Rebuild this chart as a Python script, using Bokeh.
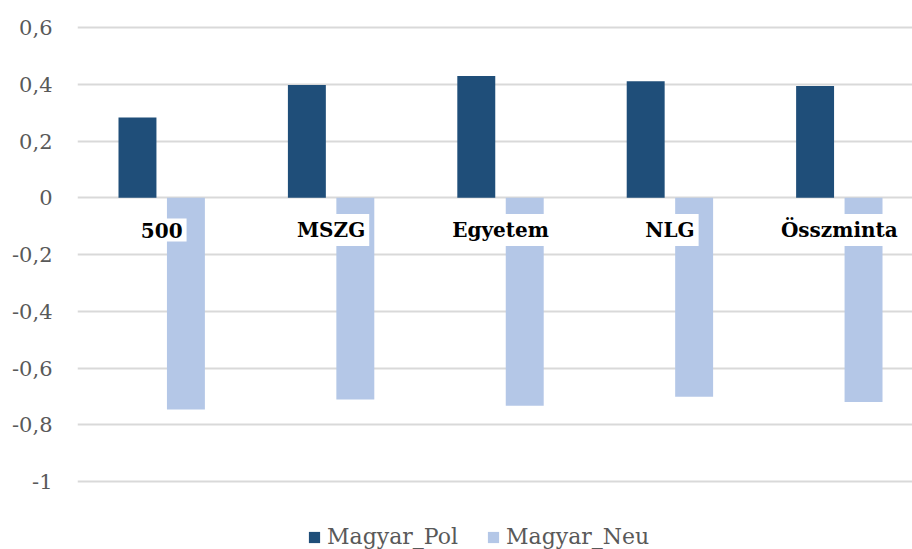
from bokeh.plotting import figure
from bokeh.models import Range1d, FixedTicker, ColumnDataSource, Legend, LegendItem
from bokeh.core.properties import value
from bokeh.transform import dodge
from bokeh.embed import file_html
from bokeh.resources import INLINE

categories = ["500", "MSZG", "Egyetem", "NLG", "Összminta"]
magyar_pol = [0.283, 0.397, 0.429, 0.411, 0.394]
magyar_neu = [-0.746, -0.711, -0.733, -0.701, -0.720]
y_ticks = [-1, -0.8, -0.6, -0.4, -0.2, 0, 0.2, 0.4, 0.6]
y_tick_labels = ["-1", "-0,8", "-0,6", "-0,4", "-0,2", "0", "0,2", "0,4", "0,6"]
series_names = ["Magyar_Pol", "Magyar_Neu"]

DARK = "#1F4E79"
LIGHT = "#B4C7E7"
FONT = "DejaVu Serif"

src = ColumnDataSource(dict(
    x=list(range(len(categories))),
    cat=categories,
    pol=magyar_pol,
    neu=magyar_neu,
    ly=[-0.114] * len(categories),
))

p = figure(width=912, height=549, output_backend="svg", toolbar_location=None,
           x_range=Range1d(-0.497, 4.432), y_range=Range1d(-1.2396, 0.6106),
           min_border_left=77, min_border_right=0, min_border_top=24, min_border_bottom=0)
p.outline_line_color = None
p.background_fill_color = "white"
p.border_fill_color = "white"

p.xaxis.visible = False
p.xgrid.visible = False

yax = p.yaxis[0]
yax.ticker = FixedTicker(ticks=y_ticks)
yax.major_label_overrides = {t: l for t, l in zip(y_ticks, y_tick_labels)}
yax.axis_line_color = None
yax.major_tick_line_color = None
yax.minor_tick_line_color = None
yax.major_tick_in = 0
yax.major_tick_out = 0
yax.major_label_standoff = 25
yax.major_label_text_font = FONT
yax.major_label_text_font_size = "21px"
yax.major_label_text_color = "#595959"

p.ygrid.ticker = FixedTicker(ticks=y_ticks)
p.ygrid.grid_line_color = "#D9D9D9"
p.ygrid.grid_line_width = 2

r1 = p.vbar(x=dodge("x", -0.143), top="pol", bottom=0, width=0.224, source=src,
            fill_color=DARK, line_color=None)
r2 = p.vbar(x=dodge("x", 0.143), top="neu", bottom=0, width=0.224, source=src,
            fill_color=LIGHT, line_color=None)

p.text(x="x", y="ly", text="cat", source=src, text_font=value(FONT),
       text_font_size="20px", text_font_style="bold", text_color="black",
       text_align="center", text_baseline="middle",
       background_fill_color="white", padding=4)

legend = Legend(items=[LegendItem(label=series_names[0], renderers=[r1]),
                       LegendItem(label=series_names[1], renderers=[r2])],
                orientation="horizontal", location=(230, 0),
                glyph_width=14, glyph_height=14, label_standoff=6, spacing=28,
                padding=0, margin=0, border_line_color=None,
                background_fill_alpha=0,
                label_text_font=FONT, label_text_font_size="22px",
                label_text_color="#595959")
p.add_layout(legend, "center")

open("out.html", "w").write(file_html(p, INLINE))
